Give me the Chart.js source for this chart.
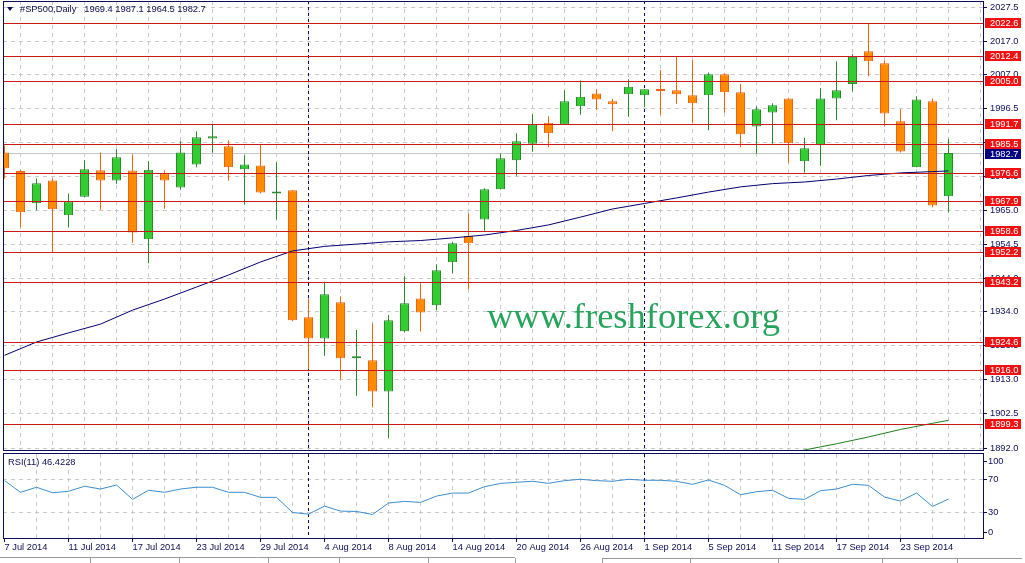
<!DOCTYPE html>
<html><head><meta charset="utf-8">
<script src="https://cdn.jsdelivr.net/npm/chart.js@4.4.1/dist/chart.umd.min.js"></script>
<style>
html,body{margin:0;padding:0;background:#fff;overflow:hidden;}
#wrap{position:relative;width:1025px;height:563px;background:#fff;}
#main{position:absolute;left:0;top:0;}
#rsi{position:absolute;left:0;top:452px;}
</style></head>
<body><div id="wrap"><canvas id="main" width="1025" height="452"></canvas><canvas id="rsi" width="1025" height="111"></canvas></div>
<script>
// ---------- data ----------
const SYMBOL = '#SP500,Daily';
const DATES = ['7 Jul 2014','8 Jul 2014','9 Jul 2014','10 Jul 2014','11 Jul 2014','14 Jul 2014','15 Jul 2014','16 Jul 2014','17 Jul 2014','18 Jul 2014','21 Jul 2014','22 Jul 2014','23 Jul 2014','24 Jul 2014','25 Jul 2014','28 Jul 2014','29 Jul 2014','30 Jul 2014','31 Jul 2014','1 Aug 2014','4 Aug 2014','5 Aug 2014','6 Aug 2014','7 Aug 2014','8 Aug 2014','11 Aug 2014','12 Aug 2014','13 Aug 2014','14 Aug 2014','15 Aug 2014','18 Aug 2014','19 Aug 2014','20 Aug 2014','21 Aug 2014','22 Aug 2014','25 Aug 2014','26 Aug 2014','27 Aug 2014','28 Aug 2014','29 Aug 2014','1 Sep 2014','2 Sep 2014','3 Sep 2014','4 Sep 2014','5 Sep 2014','8 Sep 2014','9 Sep 2014','10 Sep 2014','11 Sep 2014','12 Sep 2014','15 Sep 2014','16 Sep 2014','17 Sep 2014','18 Sep 2014','19 Sep 2014','22 Sep 2014','23 Sep 2014','24 Sep 2014','25 Sep 2014','26 Sep 2014'];
const OPEN = [1982.9,1977.2,1967.3,1974.3,1963.6,1969.3,1977.4,1974.3,1977.3,1956.2,
  1976.4,1972.1,1979.2,1987.2,1984.8,1977.7,1978.9,1970.3,1971.3,1932.2,
  1925.7,1936.8,1919.6,1919.0,1909.4,1927.9,1938.0,1935.9,1949.1,1957.2,
  1962.3,1971.6,1980.5,1985.6,1992.0,1991.5,1997.1,2001.0,1998.6,2000.8,
  2000.5,2002.0,2002.0,2000.5,2000.5,2006.9,2001.4,1990.9,1995.2,1999.5,
  1980.2,1985.1,1999.5,2003.9,2014.0,2010.3,1992.5,1978.3,1998.6,1969.4];
const HIGH = [1985.0,1977.5,1974.9,1974.9,1970.3,1980.5,1982.9,1983.9,1982.3,1980.2,
  1977.4,1986.3,1989.4,1991.3,1986.6,1982.0,1985.4,1979.9,1971.3,1938.0,
  1943.1,1938.7,1928.3,1930.4,1932.9,1944.8,1942.7,1948.5,1955.4,1964.2,
  1971.9,1982.6,1988.8,1994.6,1994.0,2002.0,2005.0,2002.3,1999.3,2005.4,
  2002.4,2008.2,2012.5,2011.3,2007.5,2007.2,2003.9,1997.1,1998.0,1999.5,
  1987.4,2002.6,2010.9,2013.1,2022.6,2011.2,1996.2,2000.2,1999.5,1987.1];
const LOW = [1974.9,1959.8,1965.0,1952.2,1959.8,1969.0,1965.3,1973.3,1955.1,1948.8,
  1965.6,1971.4,1978.3,1982.8,1974.2,1966.9,1970.3,1962.2,1931.0,1916.3,
  1920.4,1913.1,1908.1,1904.5,1895.0,1927.6,1927.8,1934.4,1945.7,1940.8,
  1958.8,1971.5,1975.7,1983.1,1984.5,1991.5,1994.5,1995.9,1989.4,1993.9,
  1996.8,1994.5,1997.9,1992.0,1989.7,1995.1,1984.5,1982.5,1985.6,1979.7,
  1976.7,1978.8,1992.8,2001.7,2006.3,1990.9,1982.9,1978.3,1966.0,1964.5];
const CLOSE = [1978.0,1964.5,1973.4,1965.4,1967.9,1977.7,1974.3,1981.4,1958.3,1977.6,
  1974.3,1982.9,1987.6,1987.9,1978.3,1979.2,1970.6,1970.9,1931.3,1925.7,
  1939.3,1919.6,1920.1,1909.4,1931.3,1936.5,1933.7,1946.7,1955.0,1955.0,
  1971.6,1981.1,1986.3,1991.5,1988.8,1998.6,2000.0,1999.2,1997.7,2003.1,
  2002.3,2001.8,2000.8,1998.0,2006.9,2001.4,1988.5,1996.2,1997.4,1985.7,
  1984.2,1999.5,2002.0,2012.3,2010.9,1994.9,1983.2,1999.2,1966.6,1982.7];
const MA_IDX = [0,2,4,6,8,10,12,14,16,18,20,22,24,26,28,30,32,34,36,38,40,42,44,46,48,50,52,54,56,58,59];
const MA_VAL = [1920.5,1924.6,1927.4,1930.1,1934.4,1937.8,1941.5,1945.2,1949.2,1952.6,
  1954.0,1954.7,1955.4,1955.8,1956.6,1957.5,1958.9,1960.6,1963.0,1965.5,
  1967.2,1968.9,1970.7,1972.3,1973.3,1973.8,1974.7,1975.8,1976.6,1977.0,1977.2];
const MA2_IDX = [49,50,52,54,56,58,59];
const MA2_VAL = [1890.4,1891.4,1893.3,1895.4,1897.7,1899.6,1900.5];
const RSI = [68.3,54.4,60.4,53.9,55.6,61.6,58.3,63.1,46.0,56.8,
  54.4,58.3,60.4,60.4,54.4,54.4,48.4,48.4,30.4,28.4,
  38.0,32.0,31.6,28.0,41.6,43.6,42.4,49.9,53.5,53.5,
  61.1,65.0,66.3,67.5,65.1,68.3,69.9,68.3,67.5,69.9,
  68.7,68.7,67.5,63.9,69.1,62.7,51.5,55.1,56.8,47.2,
  46.0,56.3,58.3,63.9,62.7,48.7,43.9,53.5,37.6,46.4];
const RSI_LABEL = 'RSI(11) 46.4228';
const LEVELS = [2022.6,2012.4,2005.0,1991.7,1985.5,1976.6,1967.9,1958.6,1952.2,1943.2,1924.6,1916.0,1899.3];
const LAST_PRICE = 1982.7;
const PRICE_TICKS = [2027.5,2017.0,2007.0,1996.5,1986.0,1975.5,1965.0,1954.5,1944.0,1934.0,1923.5,1913.0,1902.5,1892.0];
const RSI_TICKS = [30,70];
const RSI_EDGE_TICKS = [100,0];
const WATERMARK = 'www.freshforex.org';

// ---------- style ----------
const NAVY = '#0d0d55';
const GRID = '#cacaca';
const BULL_FILL = '#33cc33', BULL_LINE = '#2a8a2a';
const BEAR_FILL = '#ff8c00', BEAR_LINE = '#ec6410';
const FAM = '"Liberation Sans", Arial, sans-serif';
const FONT = {family: FAM, size: 9.3};
const X_MIN = -0.09375, X_MAX = 61.15625;
const Y_MIN = 1891.08, Y_MAX = 2029.46;

const N = DATES.length;
const idx = DATES.map((_, k) => k);
const isBull = k => CLOSE[k] >= OPEN[k];
const monthOf = s => s.split(' ')[1];
const SEPARATORS = idx.filter(k => k > 0 && monthOf(DATES[k]) !== monthOf(DATES[k-1]));
const evenTicks = () => { const t = []; for (let v = 0; v <= 60; v += 2) t.push({value: v}); return t; };
const noPad = s => { s.paddingTop = 0; s.paddingBottom = 0; s.paddingLeft = 0; s.paddingRight = 0; };

function drawSeparators(chart) {
  const {ctx, chartArea: a, scales: {x}} = chart;
  ctx.save();
  ctx.strokeStyle = NAVY; ctx.lineWidth = 1; ctx.setLineDash([3, 3]);
  SEPARATORS.forEach(k => {
    const sx = Math.floor(x.getPixelForValue(k)) + 0.5;
    ctx.beginPath(); ctx.moveTo(sx, a.top); ctx.lineTo(sx, a.bottom); ctx.stroke();
  });
  ctx.restore();
}

const mainDeco = {
  id: 'mainDeco',
  beforeDatasetsDraw(chart) {
    const {ctx, chartArea: a, scales: {y}} = chart;
    ctx.save();
    const py = Math.round(y.getPixelForValue(LAST_PRICE)) + 0.5;
    ctx.strokeStyle = '#c4c4c4'; ctx.lineWidth = 1;
    ctx.beginPath(); ctx.moveTo(a.left, py); ctx.lineTo(a.right, py); ctx.stroke();
    ctx.restore();
    drawSeparators(chart);
  },
  afterDatasetsDraw(chart) {
    const {ctx, chartArea: a, scales: {y}} = chart;
    ctx.save();
    ctx.strokeStyle = '#c81818'; ctx.lineWidth = 1;
    LEVELS.forEach(L => {
      const ly = Math.round(y.getPixelForValue(L)) + 0.5;
      ctx.beginPath(); ctx.moveTo(a.left, ly); ctx.lineTo(a.right, ly); ctx.stroke();
    });
    // watermark
    ctx.fillStyle = '#27a35c';
    ctx.font = '36px "Liberation Serif", "Times New Roman", serif';
    const w = ctx.measureText(WATERMARK).width;
    const fs = 36 * 293 / w;
    ctx.font = fs.toFixed(2) + 'px "Liberation Serif", "Times New Roman", serif';
    ctx.textBaseline = 'alphabetic'; ctx.textAlign = 'left';
    ctx.fillText(WATERMARK, 487, 328);
    ctx.restore();
  },
  afterDraw(chart) {
    const {ctx, chartArea: a, scales: {y}} = chart;
    ctx.save();
    // frame
    ctx.strokeStyle = NAVY; ctx.lineWidth = 1;
    ctx.beginPath();
    ctx.moveTo(a.left, 1.5); ctx.lineTo(a.right + 1, 1.5);
    ctx.moveTo(3.5, 1); ctx.lineTo(3.5, 451);
    ctx.moveTo(a.left, 450.5); ctx.lineTo(a.right + 1, 450.5);
    ctx.moveTo(a.right + 0.5, 1); ctx.lineTo(a.right + 0.5, 451);
    ctx.stroke();
    // level labels
    ctx.font = '9.3px ' + FAM; ctx.textBaseline = 'middle'; ctx.textAlign = 'left';
    LEVELS.forEach(L => {
      const ly = Math.round(y.getPixelForValue(L));
      ctx.fillStyle = '#f01212'; ctx.fillRect(985, ly - 5, 36, 10);
      ctx.fillStyle = '#ffffff'; ctx.fillText(L.toFixed(1), 990, ly + 0.5);
    });
    const py = Math.round(y.getPixelForValue(LAST_PRICE));
    ctx.fillStyle = '#000080'; ctx.fillRect(985, py - 4, 36, 10);
    ctx.fillStyle = '#ffffff'; ctx.fillText(LAST_PRICE.toFixed(1), 990, py + 1);
    // title
    ctx.fillStyle = NAVY;
    ctx.beginPath(); ctx.moveTo(7, 7); ctx.lineTo(13, 7); ctx.lineTo(10, 11); ctx.closePath(); ctx.fill();
    ctx.fillText(SYMBOL, 20, 9.5);
    const last = N - 1;
    ctx.fillText([OPEN[last], HIGH[last], LOW[last], CLOSE[last]].map(v => v.toFixed(1)).join(' '), 84.3, 9.5);
    ctx.restore();
  }
};

new Chart(document.getElementById('main'), {
  type: 'bar',
  data: { datasets: [
    {type: 'line', data: MA_IDX.map((k, j) => ({x: k, y: MA_VAL[j]})), borderColor: '#000070', borderWidth: 1, pointRadius: 0, tension: 0, order: 0},
    {type: 'line', data: MA2_IDX.map((k, j) => ({x: k, y: MA2_VAL[j]})), borderColor: '#1f7f1f', borderWidth: 1, pointRadius: 0, tension: 0, order: 0},
    {type: 'bar', data: idx.map(k => ({x: k, y: [OPEN[k], CLOSE[k]]})),
      backgroundColor: idx.map(k => isBull(k) ? BULL_FILL : BEAR_FILL),
      borderColor: idx.map(k => isBull(k) ? BULL_LINE : BEAR_LINE),
      borderWidth: 1, borderSkipped: false, barThickness: 9, maxBarThickness: 9, minBarLength: 2,
      grouped: false, inflateAmount: 0, order: 1},
    {type: 'bar', data: idx.map(k => ({x: k, y: [LOW[k], HIGH[k]]})),
      backgroundColor: idx.map(k => isBull(k) ? BULL_LINE : BEAR_LINE),
      borderWidth: 0, barThickness: 1, maxBarThickness: 1, grouped: false, inflateAmount: 0, order: 2}
  ]},
  options: {
    responsive: false, animation: false, events: [], devicePixelRatio: 1,
    layout: {padding: {left: 3, top: 1, right: 0, bottom: 1}},
    plugins: {legend: {display: false}, tooltip: {enabled: false}},
    scales: {
      x: {type: 'linear', min: X_MIN, max: X_MAX, offset: false,
        afterBuildTicks: s => { s.ticks = evenTicks(); },
        afterFit: s => { s.height = 0; noPad(s); },
        ticks: {display: false},
        grid: {color: c => (c.tick && c.tick.value === 0) ? 'rgba(0,0,0,0)' : GRID, drawTicks: false, lineWidth: 1},
        border: {display: false, dash: [4, 4]}},
      y: {type: 'linear', position: 'right', min: Y_MIN, max: Y_MAX,
        afterBuildTicks: s => { s.ticks = PRICE_TICKS.map(v => ({value: v})); },
        afterFit: s => { s.width = 42; noPad(s); },
        ticks: {callback: v => Number(v).toFixed(1), font: FONT, color: NAVY, padding: 3, autoSkip: false},
        grid: {color: GRID, tickColor: NAVY, tickLength: 4, drawTicks: true, lineWidth: 1},
        border: {display: false, dash: [4, 4]}}
    }
  },
  plugins: [mainDeco]
});

const rsiDeco = {
  id: 'rsiDeco',
  beforeDatasetsDraw(chart) { drawSeparators(chart); },
  afterDraw(chart) {
    const {ctx, chartArea: a, scales: {y}} = chart;
    ctx.save();
    ctx.strokeStyle = NAVY; ctx.lineWidth = 1;
    ctx.beginPath();
    ctx.moveTo(a.left, 1.5); ctx.lineTo(a.right + 1, 1.5);
    ctx.moveTo(3.5, 1); ctx.lineTo(3.5, 87);
    ctx.moveTo(a.left, 86.5); ctx.lineTo(a.right + 1, 86.5);
    ctx.moveTo(a.right + 0.5, 1); ctx.lineTo(a.right + 0.5, 87);
    ctx.stroke();
    // edge labels (100 / 0), nudged inside the panel
    ctx.font = '9.3px ' + FAM; ctx.textBaseline = 'middle'; ctx.textAlign = 'left'; ctx.fillStyle = NAVY;
    RSI_EDGE_TICKS.forEach(v => {
      const ty = Math.round(y.getPixelForValue(v) + (v === 100 ? 6.5 : -6)) + 0.5;
      ctx.beginPath(); ctx.moveTo(a.right, ty); ctx.lineTo(a.right + 4, ty); ctx.stroke();
      ctx.fillText(String(v), 988, ty);
    });
    ctx.fillText(RSI_LABEL, 8, 10.7);
    // bottom tab strip
    ctx.strokeStyle = '#9a9a9a';
    ctx.beginPath();
    ctx.moveTo(0, 105.5); ctx.lineTo(515, 105.5);
    ctx.moveTo(602, 106.5); ctx.lineTo(1022, 106.5);
    [90, 179, 268, 339, 428, 515, 602, 690, 778, 882, 957].forEach(px => { ctx.moveTo(px + 0.5, 106); ctx.lineTo(px + 0.5, 111); });
    ctx.stroke();
    ctx.restore();
  }
};

new Chart(document.getElementById('rsi'), {
  type: 'line',
  data: { datasets: [
    {data: idx.map(k => ({x: k, y: RSI[k]})), borderColor: '#3b8ed0', borderWidth: 1, pointRadius: 0, tension: 0}
  ]},
  options: {
    responsive: false, animation: false, events: [], devicePixelRatio: 1,
    layout: {padding: {left: 3, top: 2, right: 0, bottom: 0}},
    plugins: {legend: {display: false}, tooltip: {enabled: false}},
    scales: {
      x: {type: 'linear', min: X_MIN, max: X_MAX, offset: false,
        afterBuildTicks: s => { s.ticks = evenTicks(); },
        afterFit: s => { s.height = 25; noPad(s); },
        ticks: {autoSkip: false, maxRotation: 0, minRotation: 0, align: 'start', padding: 0, font: FONT, color: NAVY,
          callback: v => (v % 4 === 0 && v < N) ? DATES[v] : ''},
        grid: {color: c => (c.tick && c.tick.value === 0) ? 'rgba(0,0,0,0)' : GRID,
          tickColor: c => (c.tick && c.tick.value % 4 === 0 && c.tick.value < N) ? NAVY : 'rgba(0,0,0,0)',
          tickLength: 4, drawTicks: true, lineWidth: 1},
        border: {display: false, dash: [4, 4]}},
      y: {type: 'linear', position: 'right', min: 0, max: 100,
        afterBuildTicks: s => { s.ticks = RSI_TICKS.map(v => ({value: v})); },
        afterFit: s => { s.width = 42; noPad(s); },
        ticks: {font: FONT, color: NAVY, padding: 1, autoSkip: false},
        grid: {color: GRID, tickColor: NAVY, tickLength: 4, drawTicks: true, lineWidth: 1},
        border: {display: false, dash: [4, 4]}}
    }
  },
  plugins: [rsiDeco]
});
</script>
</body></html>
